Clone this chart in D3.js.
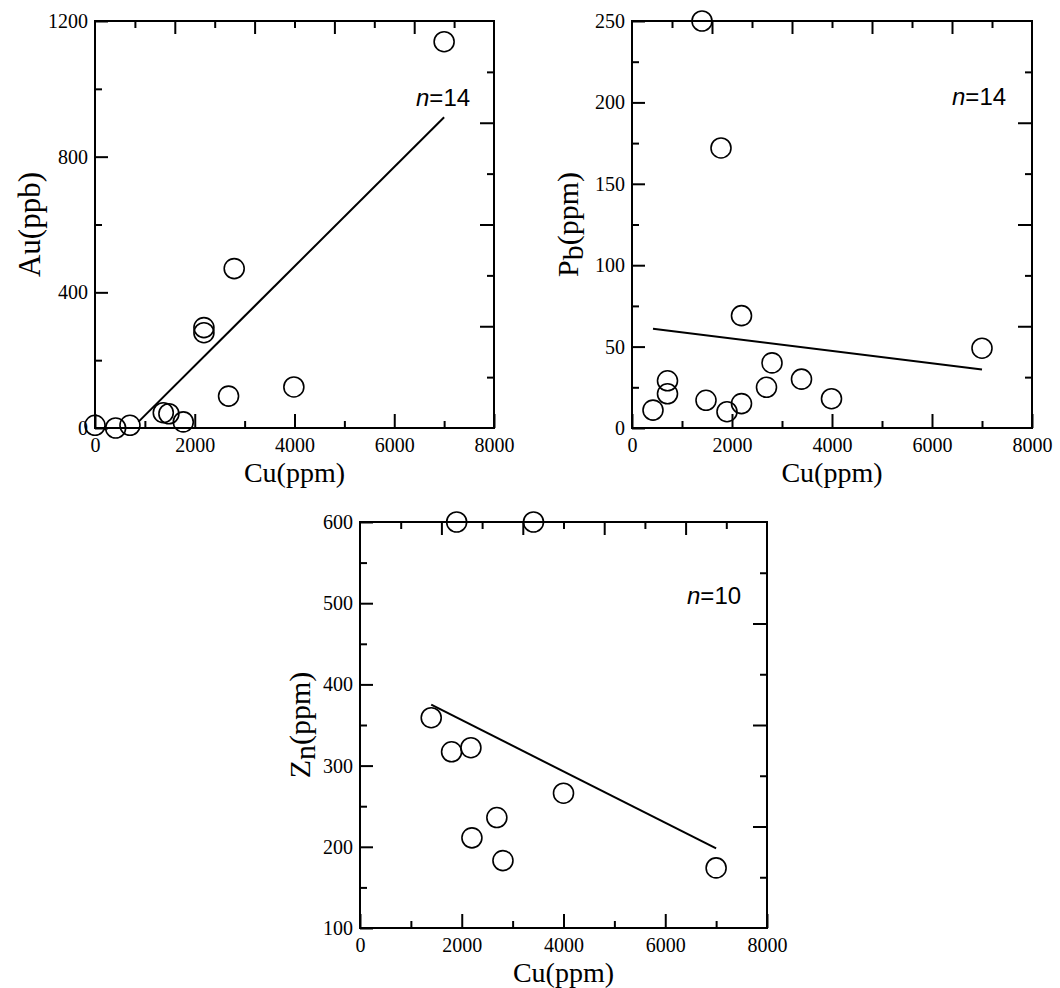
<!DOCTYPE html>
<html lang="en">
<head>
<meta charset="utf-8">
<title>Cu scatter plots</title>
<script type="text/javascript" src="https://d3js.org/d3.v7.min.js"></script>
<style>
  body { margin: 0; background: #fff; }
  .tick text { font-family: "Liberation Serif", "Times New Roman", serif; font-size: 20px; fill: #000; }
  .tick line { stroke: #000; stroke-width: 2; }
  .title { font-family: "Liberation Serif", "Times New Roman", serif; font-size: 28px; fill: #000; }
  .nlab { font-family: "Liberation Sans", Arial, sans-serif; font-size: 24px; fill: #000; }
</style>
</head>
<body>
<div id="container"></div>
<script type="text/javascript">
// data
var xTicks = [0, 2000, 4000, 6000, 8000];

var cuAu = [0, 414, 701, 1369, 1482, 1770, 2184, 2184, 2678, 2791, 3987, 7000];
var au   = [8, 0, 8, 45, 42, 18, 296, 281, 94, 470, 121, 1139];
var fitAu = [[870, 18], [7000, 916]];
var auTicks = [0, 400, 800, 1200];

var cuPb = [420, 710, 710, 1480, 1900, 2190, 2190, 1400, 1780, 2690, 2800, 3390, 3990, 7000];
var pb   = [11, 29, 21, 17, 10, 15, 69, 250, 172, 25, 40, 30, 18, 49];
var fitPb = [[420, 61], [7000, 36]];
var pbTicks = [0, 50, 100, 150, 200, 250];

var cuZn = [1900, 3410, 1400, 1800, 2180, 4000, 2690, 2200, 2810, 7000];
var zn   = [600, 600, 359, 317, 322, 266, 236, 211, 183, 174];
var fitZn = [[1400, 375], [7000, 198]];
var znTicks = [100, 200, 300, 400, 500, 600];

var w = 1060, h = 988;
var svg = d3.select("div#container").append("svg").attr("width", w).attr("height", h);
var fmt = d3.format("d");

function panel(o) {
  var g = svg.append("g").attr("transform", "translate(" + o.left + "," + o.top + ")");
  var x = d3.scaleLinear().domain([0, 8000]).range([0, o.w]);
  var y = d3.scaleLinear().domain(o.yDom).range([o.h, 0]);
  var y0 = o.yDom[0], y1 = o.yDom[1];
  var yStep = o.yTicks[1] - o.yTicks[0];

  // bottom: labelled every 2000, minor every 1000
  g.append("g").attr("transform", "translate(0," + o.h + ")")
    .call(d3.axisBottom(x).tickValues(xTicks).tickFormat(fmt).tickSize(-14).tickSizeOuter(0).tickPadding(10));
  g.append("g").attr("transform", "translate(0," + o.h + ")")
    .call(d3.axisBottom(x).tickValues([1000, 3000, 5000, 7000]).tickSize(-7).tickSizeOuter(0).tickFormat(""));
  // left
  g.append("g").call(d3.axisLeft(y).tickValues(o.yTicks).tickFormat(fmt).tickSize(-13).tickSizeOuter(0).tickPadding(7));
  g.append("g").call(d3.axisLeft(y).tickValues(o.yTicks.slice(1).map(function(t) { return t - yStep / 2; }))
    .tickSize(-7).tickSizeOuter(0).tickFormat(""));
  // top: 10 divisions
  var topMaj = [1600, 3200, 4800, 6400], topMin = [800, 2400, 4000, 5600, 7200];
  g.append("g").call(d3.axisTop(x).tickValues(topMaj).tickSize(-13).tickSizeOuter(0).tickFormat(""));
  g.append("g").call(d3.axisTop(x).tickValues(topMin).tickSize(-7).tickSizeOuter(0).tickFormat(""));
  // right: 8 divisions
  var d8 = (y1 - y0) / 8;
  var rMaj = [2, 4, 6].map(function(k) { return y0 + k * d8; });
  var rMin = [1, 3, 5, 7].map(function(k) { return y0 + k * d8; });
  g.append("g").attr("transform", "translate(" + o.w + ",0)")
    .call(d3.axisRight(y).tickValues(rMaj).tickSize(-14).tickSizeOuter(0).tickFormat(""));
  g.append("g").attr("transform", "translate(" + o.w + ",0)")
    .call(d3.axisRight(y).tickValues(rMin).tickSize(-7).tickSizeOuter(0).tickFormat(""));
  g.selectAll(".domain").remove();

  g.append("rect").attr("width", o.w).attr("height", o.h)
    .attr("fill", "none").attr("stroke", "#000").attr("stroke-width", 2);

  // fit line
  g.append("path").datum(o.fit)
    .attr("d", d3.line().x(function(d) { return x(d[0]); }).y(function(d) { return y(d[1]); }))
    .attr("fill", "none").attr("stroke", "#000").attr("stroke-width", 2);

  // points
  g.selectAll("circle.pt").data(o.xs).enter().append("circle").attr("class", "pt")
    .attr("cx", function(d) { return x(d); })
    .attr("cy", function(d, i) { return y(o.ys[i]); })
    .attr("r", 10).attr("fill", "none").attr("stroke", "#000").attr("stroke-width", 1.6);

  // titles
  g.append("text").attr("class", "title").attr("text-anchor", "middle")
    .attr("x", o.w / 2).attr("y", o.h + 54).text("Cu(ppm)");
  var yt = g.append("text").attr("class", "title").attr("text-anchor", "middle")
    .style("font-size", o.yFont + "px")
    .attr("transform", "translate(" + (-o.yOff) + "," + (o.h / 2) + ") rotate(-90)");
  yt.append("tspan").text(o.yLab[0]);
  if (o.yLab.length > 1) {
    yt.append("tspan").attr("dy", 5).text(o.yLab[1]);
    yt.append("tspan").attr("dy", -5).text(o.yLab[2]);
  }

  var nt = g.append("text").attr("class", "nlab").attr("x", o.nx).attr("y", o.ny);
  nt.append("tspan").attr("font-style", "italic").text("n");
  nt.append("tspan").text("=" + o.n);
}

panel({left: 95, top: 21, w: 399, h: 407, yDom: [0, 1200], yTicks: auTicks,
  xs: cuAu, ys: au, fit: fitAu, yLab: ["Au(ppb)"], yOff: 55, yFont: 31, n: 14, nx: 321, ny: 85});
panel({left: 632, top: 21, w: 400, h: 407, yDom: [0, 250], yTicks: pbTicks,
  xs: cuPb, ys: pb, fit: fitPb, yLab: ["P", "b", "(ppm)"], yOff: 54, yFont: 30, n: 14, nx: 320, ny: 84});
panel({left: 360, top: 522, w: 407, h: 406, yDom: [100, 600], yTicks: znTicks,
  xs: cuZn, ys: zn, fit: fitZn, yLab: ["Z", "n", "(ppm)"], yOff: 50, yFont: 30, n: 10, nx: 327, ny: 82});
</script>
</body>
</html>
